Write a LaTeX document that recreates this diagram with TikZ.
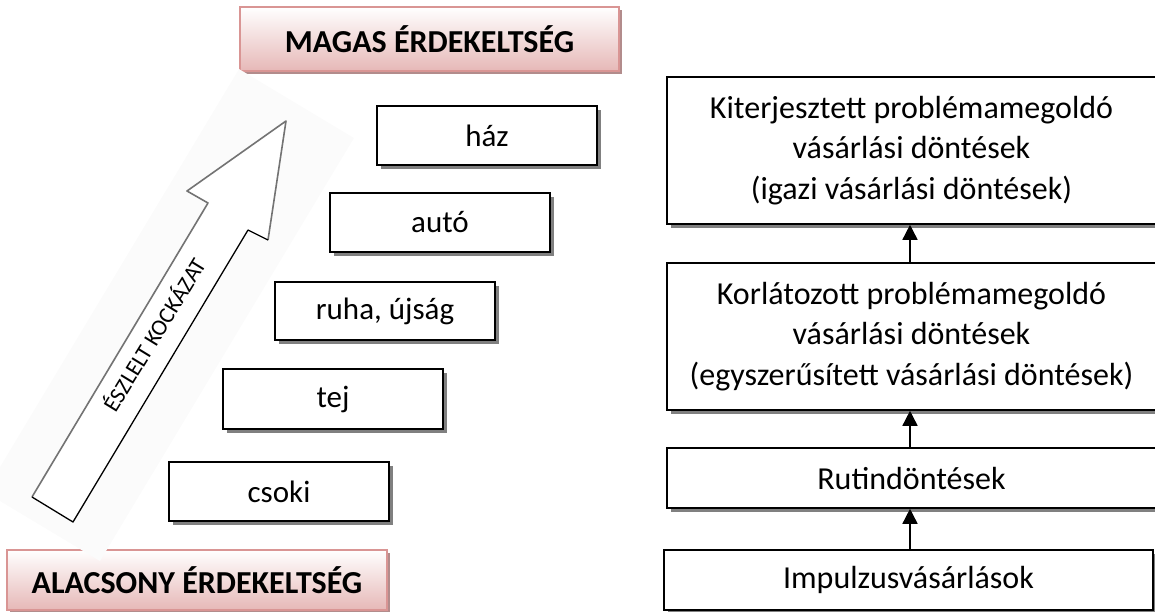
\documentclass[tikz,border=0pt]{standalone}
\usepackage{fontspec}
\setmainfont{Carlito}
\usetikzlibrary{shadows,arrows.meta}
\definecolor{pinkedge}{RGB}{217,149,148}
\definecolor{pinkfill}{RGB}{230,184,183}
\definecolor{pinkshadow}{RGB}{178,140,140}
\tikzset{
  lbox/.style={draw=black, line width=1.6pt, fill=white, minimum width=220pt,
    minimum height=59pt, inner sep=0pt, font=\fontsize{31}{36}\selectfont,
    drop shadow={shadow xshift=4pt, shadow yshift=-4pt, fill=black!50, opacity=1}},
  rbox/.style={draw=black, line width=1.6pt, fill=white, minimum width=489pt,
    inner sep=0pt, align=center, font=\fontsize{32}{40.5}\selectfont,
    drop shadow={shadow xshift=4pt, shadow yshift=-4pt, fill=black!50, opacity=1}},
  pbox/.style={draw=pinkedge, line width=1.8pt, top color=white, bottom color=pinkfill,
    minimum width=379pt, minimum height=64pt, inner sep=0pt,
    font=\bfseries\fontsize{32}{36}\selectfont,
    drop shadow={shadow xshift=3pt, shadow yshift=-3pt, fill=pinkshadow, opacity=1}},
  uparrow/.style={line width=1.6pt, -{Triangle[length=15pt,width=15pt]}}
}
\begin{document}
\begin{tikzpicture}[x=1pt,y=-1pt]
\useasboundingbox (0,0) rectangle (1155,611);
\clip (0,0) rectangle (1155,611);
% pink boxes
\node[pbox] (high) at (429.5,39) {MAGAS ÉRDEKELTSÉG};
\node[pbox, minimum width=380pt, minimum height=60pt] (low) at (197,580) {ALACSONY ÉRDEKELTSÉG};
% risk arrow
\fill[black!1.5] (-15,492) -- (100,561) -- (354,138) -- (239,69) -- cycle;
\coordinate (tl) at (32,497);
\coordinate (tr) at (73,522);
\coordinate (sr) at (248,230);
\coordinate (br) at (268,240);
\coordinate (tip) at (286,121);
\coordinate (bl) at (187,191);
\coordinate (sl) at (208,203);
\fill[white] (tl) -- (tr) -- (sr) -- (br) -- (tip) -- (bl) -- (sl) -- cycle;
\draw[black!55, line width=1.6pt, line join=round] (tl) -- (sl) -- (bl) -- (tip) -- (br);
\draw[black, line width=1.3pt, line join=round] (tl) -- (tr) -- (sr) -- (br);
\node[rotate=58.5, font=\fontsize{23}{26}\selectfont, inner sep=0pt] (risk) at (153,334) {ÉSZLELT KOCKÁZAT};
% product boxes
\node[lbox] (csoki) at (279,491.5) {csoki};
\node[lbox, minimum height=60pt] (tej) at (333,399) {tej};
\node[lbox, minimum height=58pt] (ruha) at (385,311) {ruha, újság};
\node[lbox] (auto) at (440,222.5) {autó};
\node[lbox] (haz) at (487,135.5) {ház};
% decision boxes
\node[rbox, minimum height=147pt] (k1) at (911.5,150.5) {Kiterjesztett problémamegoldó\\vásárlási döntések\\(igazi vásárlási döntések)};
\node[rbox, minimum height=147pt] (k2) at (911.5,336.5) {Korlátozott problémamegoldó\\vásárlási döntések\\(egyszerűsített vásárlási döntések)};
\node[rbox, minimum height=60pt] (k3) at (911.5,478) {Rutindöntések};
\node[rbox, minimum height=60pt] (k4) at (908.5,580) {Impulzusvásárlások};
\draw[uparrow] ([xshift=-1.5pt]k2.north) -- ([xshift=-1.5pt]k1.south);
\draw[uparrow] ([xshift=-1.5pt]k3.north) -- ([xshift=-1.5pt]k2.south);
\draw[uparrow] ([xshift=1.5pt]k4.north) -- ([xshift=-1.5pt]k3.south);
\end{tikzpicture}
\end{document}
